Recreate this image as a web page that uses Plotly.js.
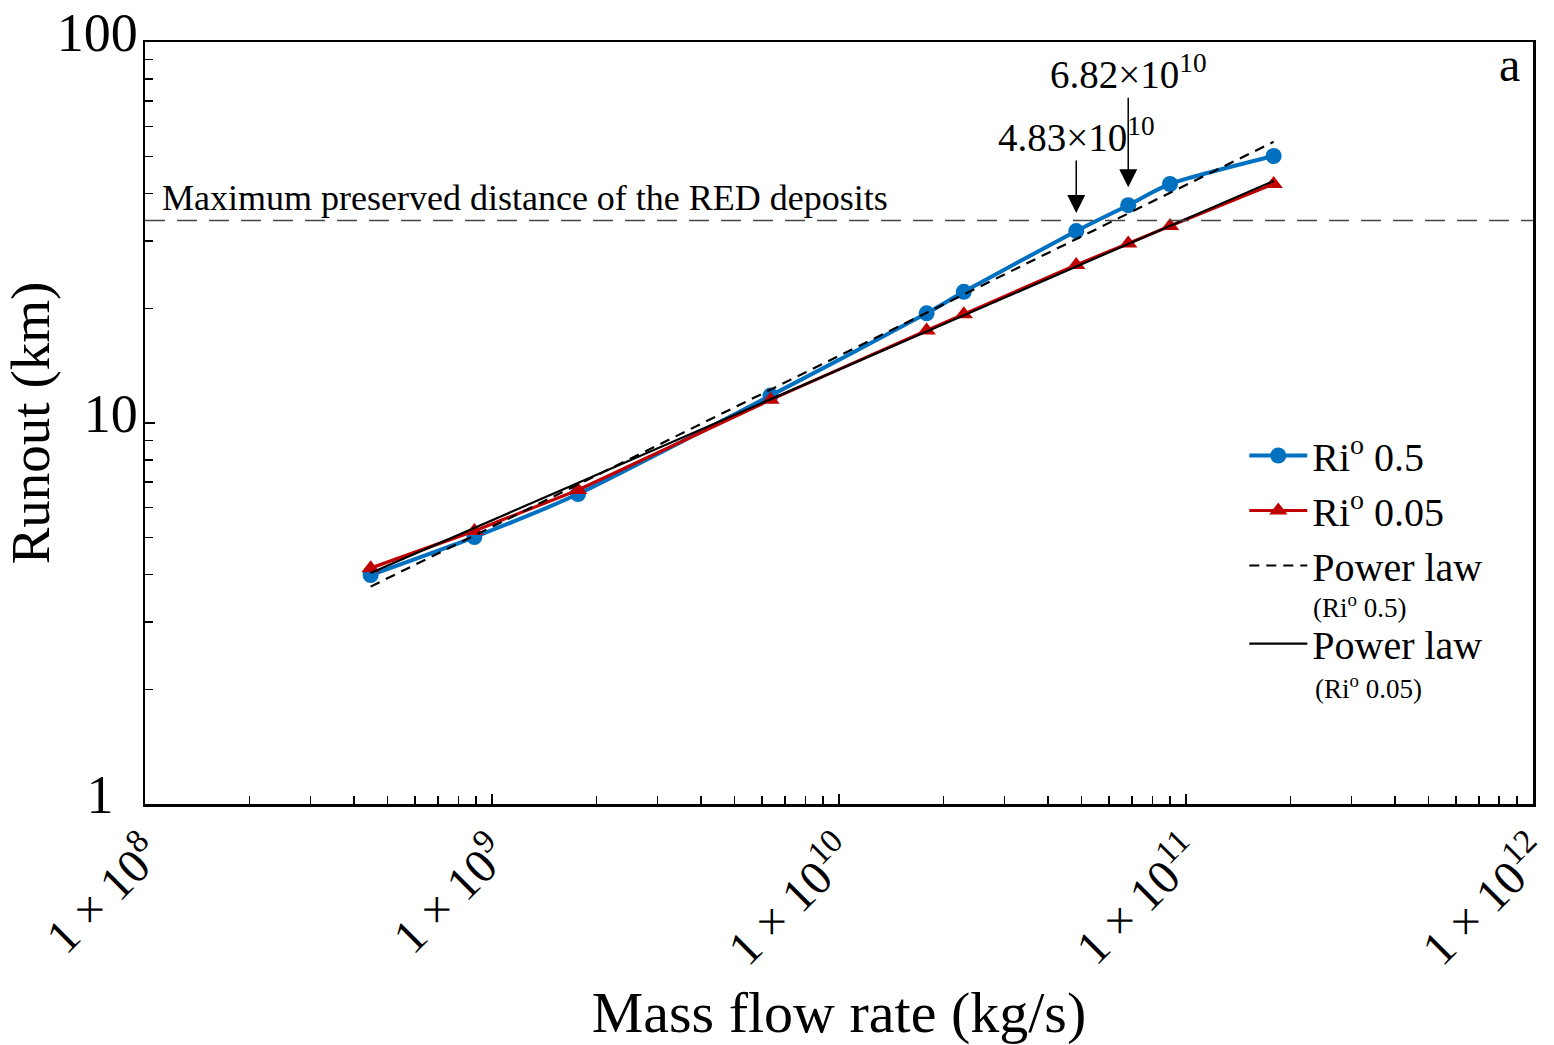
<!DOCTYPE html>
<html>
<head>
<meta charset="utf-8">
<script src="https://cdn.plot.ly/plotly-3.0.1.min.js"></script>
<style>html,body{margin:0;padding:0;background:#fff;}#chart{width:1554px;height:1045px;}</style>
</head>
<body>
<div id="chart"></div>
<script>
// Mass flow rate (kg/s)
const massFlow = [4.47e8, 8.9e8, 1.77e9, 6.35e9, 1.79e10, 2.29e10, 4.83e10, 6.82e10, 9.0e10, 1.79e11];
// Runout (km)
const runoutRi05 = [3.99, 5.02, 6.51, 11.8, 19.4, 22.1, 31.9, 37.3, 42.4, 50.2];
const runoutRi005 = [4.16, 5.21, 6.67, 11.5, 17.5, 19.3, 26.0, 29.6, 32.9, 42.4];
// Power-law fit endpoints
const powerLawX = [4.47e8, 1.79e11];
const powerLawRi05 = [3.72, 54.7];
const powerLawRi005 = [4.04, 43.2];
// Maximum preserved distance of the RED deposits (km)
const redMaxDistance = 34;
const redLineX = [1e8, 1e12];
// Axis ticks
const xTickVals = [1e8, 1e9, 1e10, 1e11, 1e12];
const xTickText = ['1 × 10<sup>8</sup>', '1 × 10<sup>9</sup>', '1 × 10<sup>10</sup>', '1 × 10<sup>11</sup>', '1 × 10<sup>12</sup>'];
const yTickVals = [1, 10, 100];
const yTickText = ['1\u00A0\u2009', '10', '100'];
// Annotated points
const markedFlows = [4.83e10, 6.82e10];
const markedLabels = ['4.83×10<sup>10</sup>', '6.82×10<sup>10</sup>'];
// Legend labels
const legendNames = ['Ri<sup>o</sup> 0.5', 'Ri<sup>o</sup> 0.05', 'Power law', 'Power law'];
const legendSubs = ['(Ri<sup>o</sup> 0.5)', '(Ri<sup>o</sup> 0.05)'];

const FONT = 'Liberation Serif, Times New Roman, serif';
const blue = '#0070C0';
const red = '#C00000';

const traces = [
  {
    x: massFlow, y: runoutRi05, type: 'scatter', mode: 'lines+markers',
    name: legendNames[0], legend: 'legend',
    line: {color: blue, width: 4, shape: 'spline', smoothing: 0.6},
    marker: {symbol: 'circle', size: 16, color: blue}
  },
  {
    x: massFlow, y: runoutRi005, type: 'scatter', mode: 'lines+markers',
    name: legendNames[1], legend: 'legend',
    line: {color: red, width: 3.2},
    marker: {symbol: 'triangle-up', size: 16, color: red}
  },
  {
    x: powerLawX, y: powerLawRi05, type: 'scatter', mode: 'lines',
    name: legendNames[2], legend: 'legend',
    line: {color: '#000', width: 2.2, dash: '10px,7px'}
  },
  {
    x: powerLawX, y: powerLawRi005, type: 'scatter', mode: 'lines',
    name: legendNames[3], legend: 'legend2',
    line: {color: '#000', width: 2.2}
  },
  {
    x: redLineX, y: [redMaxDistance, redMaxDistance], type: 'scatter', mode: 'lines',
    showlegend: false, hoverinfo: 'skip',
    line: {color: '#444', width: 1.5, dash: '20px,12px'}
  }
];

const annotations = markedFlows.map((f, i) => {
  const yv = runoutRi05[massFlow.indexOf(f)];
  return {
    x: Math.log10(f), y: Math.log10(yv), xref: 'x', yref: 'y',
    text: markedLabels[i], showarrow: true,
    arrowhead: 2, arrowsize: 2.4, arrowwidth: 1.5, arrowcolor: '#000',
    standoff: 18, ax: 0, ay: i === 0 ? -96 : -133,
    font: {family: FONT, size: 39, color: '#000'}
  };
});
annotations.push({
  xref: 'paper', yref: 'y', x: 0.011, y: Math.log10(redMaxDistance),
  xanchor: 'left', yanchor: 'bottom', yshift: 1, showarrow: false,
  text: 'Maximum preserved distance of the RED deposits',
  font: {family: FONT, size: 36, color: '#000'}
});
annotations.push({
  xref: 'paper', yref: 'paper', x: 0.992, y: 0.970,
  xanchor: 'right', yanchor: 'middle', showarrow: false,
  text: 'a', font: {family: FONT, size: 48, color: '#000'}
});
// sub-labels of the power-law legend entries
annotations.push({
  xref: 'paper', yref: 'paper', x: (1311 - 145) / 1388, y: (804 - 606) / 762,
  xanchor: 'left', yanchor: 'middle', showarrow: false,
  text: legendSubs[0], font: {family: FONT, size: 27, color: '#000'}
});
annotations.push({
  xref: 'paper', yref: 'paper', x: (1313 - 145) / 1388, y: (804 - 687) / 762,
  xanchor: 'left', yanchor: 'middle', showarrow: false,
  text: legendSubs[1], font: {family: FONT, size: 27, color: '#000'}
});

const legendStyle = {
  xanchor: 'left', yanchor: 'top',
  bgcolor: 'rgba(0,0,0,0)', font: {family: FONT, size: 40, color: '#000'},
  tracegroupgap: 0, itemwidth: 58
};

const layout = {
  width: 1554, height: 1045,
  margin: {l: 145, r: 21, t: 42, b: 241},
  paper_bgcolor: '#fff', plot_bgcolor: '#fff',
  font: {family: FONT, color: '#000'},
  showlegend: true,
  legend: Object.assign({x: 0.792, y: 0.5}, legendStyle),
  legend2: Object.assign({x: 0.792, y: 0.253}, legendStyle),
  xaxis: {
    type: 'log', range: [8, 12.0004],
    tickvals: xTickVals, ticktext: xTickText, tickangle: -45,
    tickfont: {family: FONT, size: 48, color: '#000'},
    ticklabelshift: 3, ticklabeloverflow: 'allow',
    ticks: 'inside', ticklen: 10, tickwidth: 1.5, tickcolor: '#000',
    minor: {dtick: 'D1', ticks: 'inside', ticklen: 8, tickwidth: 1.5, tickcolor: '#000', showgrid: false},
    showline: true, linecolor: '#000', linewidth: 2.5, mirror: true,
    showgrid: false, zeroline: false,
    title: {text: 'Mass flow rate (kg/s)', font: {family: FONT, size: 58, color: '#000'}, standoff: 24}
  },
  yaxis: {
    type: 'log', range: [0, 2],
    tickvals: yTickVals, ticktext: yTickText,
    tickfont: {family: FONT, size: 54, color: '#000'},
    ticklabelshift: -10, ticklabelstandoff: -6, ticklabeloverflow: 'allow',
    ticks: 'inside', ticklen: 10, tickwidth: 1.5, tickcolor: '#000',
    minor: {dtick: 'D1', ticks: 'inside', ticklen: 8, tickwidth: 1.5, tickcolor: '#000', showgrid: false},
    showline: true, linecolor: '#000', linewidth: 2.5, mirror: true,
    showgrid: false, zeroline: false,
    title: {text: 'Runout (km)', font: {family: FONT, size: 55, color: '#000'}, standoff: 10}
  },
  annotations: annotations
};

Plotly.newPlot('chart', traces, layout, {displayModeBar: false, staticPlot: true});
</script>
</body>
</html>
